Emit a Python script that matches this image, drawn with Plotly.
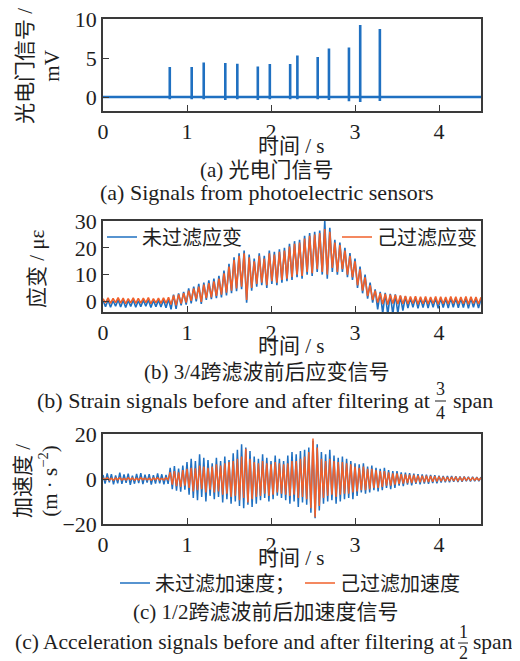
import plotly.graph_objects as go

# the page body has an 8px margin: the figure starts at (8, 8) in the window
WIN_W, WIN_H = 520, 661
OFF = 8
W, H = WIN_W - OFF, WIN_H - OFF

# ---------------- data ----------------
# (a) photoelectric gate signal: spike times (s), peak heights (mV), dips (mV)
spike_t = [0.795, 1.056, 1.199, 1.456, 1.599, 1.843, 1.986, 2.228, 2.314, 2.556, 2.690, 2.928, 3.062, 3.296]
spike_h = [3.85, 3.85, 4.44, 4.36, 4.27, 3.93, 4.23, 4.23, 5.34, 5.13, 6.24, 6.37, 9.27, 8.76]
spike_dip = [-0.3, -0.3, -0.3, -0.4, -0.3, -0.4, -0.3, -0.3, -0.3, -0.3, -0.4, -0.55, -0.65, -0.5]
signal_start = 0.0
signal_end = 4.5

# (b) strain at 3/4 span (με), sampled every strain_dt seconds
strain_dt = 0.03
strain_raw = [
    0.3, -2.0, 0.5, -2.2, 0.2, -1.8, 0.6, -2.1, 0.4, -2.3, 0.3, -1.9, 0.5, -2.2, 0.2, -2.0, 0.4, -1.8, 0.6, -2.3, 0.3, -2.0, 0.4, -2.1, 0.5, -2.4, 0.8,
    -3.0, 2.5, -2.8, 3.0, -1.5, 3.5, -1.2,
    4.8, -0.8, 5.5, 0.0, 6.5, -1.0, 7.0, 0.5, 7.8, 0.8, 8.5, 1.2, 9.5,
    1.5, 11.5, 2.2, 14.0, 3.0, 16.5, 3.8, 18.0, 4.5, 19.0, -0.5, 17.5, 4.0, 16.0,
    5.5, 18.0, 6.0, 17.0, 5.0, 19.0, 6.5, 18.5, 6.0, 19.5, 7.0, 20.0, 7.5,
    21.5, 8.0, 22.5, 9.0, 23.0, 8.5, 24.5, 10.0, 25.5, 9.5, 26.0, 11.0, 26.5, 10.0, 30.0, 8.5, 27.5,
    11.0, 23.0, 10.0, 22.0, 11.0, 20.0, 9.0, 18.0, 8.0, 16.0,
    5.0, 13.0, 3.0, 10.0, 1.0, 7.0, -0.5,
    4.5, -3.0, 3.5, -4.5, 3.2, -5.0, 2.8, -4.8, 2.6, -4.5, 2.0, -3.5, 1.8,
    -2.5, 1.2, -2.2, 1.4, -2.6, 1.1, -2.3, 1.3, -2.5, 1.0, -2.2, 1.2, -2.6, 1.1, -2.3, 1.0, -2.5, 1.2, -2.2, 1.1, -2.4, 1.0, -2.3, 1.2, -2.6, 1.1, -2.2, 1.0, -2.5, 0.9,
]
strain_filt = [
    1.0, -0.6, 1.3, -0.8, 1.1, -0.5, 1.4, -0.7, 1.2, -0.9, 1.0, -0.6, 1.3, -0.8, 1.1, -0.7, 1.2, -0.5, 1.4, -0.9, 1.0, -0.6, 1.2, -0.8, 1.3, -0.7, 1.5,
    -1.2, 2.2, -1.5, 2.6, -0.8, 3.0, -0.5,
    4.0, 0.2, 4.8, 0.8, 5.5, -0.2, 6.2, 1.2, 6.8, 1.5, 7.5, 2.0, 8.5,
    2.5, 10.5, 3.2, 13.0, 4.0, 15.5, 4.8, 17.0, 5.5, 18.0, 0.5, 16.5, 5.0, 15.0,
    6.5, 17.0, 7.0, 16.0, 6.0, 18.0, 7.5, 17.5, 7.0, 18.5, 8.0, 19.0, 8.5,
    20.5, 9.0, 21.5, 10.0, 22.0, 9.5, 23.5, 11.0, 24.5, 10.5, 25.0, 12.0, 25.5, 11.0, 27.0, 10.0, 26.0,
    12.5, 22.0, 11.0, 21.0, 12.0, 19.0, 10.0, 17.0, 9.0, 15.0,
    6.0, 12.0, 4.0, 9.0, 2.0, 6.0, 0.5,
    4.0, -0.5, 3.0, -1.0, 2.8, -1.2, 2.5, -0.8, 2.4, -1.0, 2.2, -0.9, 2.0,
    -1.0, 1.8, -0.8, 1.9, -1.1, 1.7, -0.9, 1.8, -1.0, 1.6, -0.8, 1.8, -1.1, 1.7, -0.9, 1.6, -1.0, 1.8, -0.8, 1.7, -1.0, 1.6, -0.9, 1.8, -1.1, 1.7, -0.8, 1.6, -1.0, 1.5,
]

# (c) acceleration at 1/2 span (m/s^2), sampled every acc_dt seconds
acc_dt = 0.025
acc_raw = [
    1.8, -2.0, 2.5, -1.5, 2.2, -2.4, 1.6, -1.9, 2.8, -2.2, 2.0, -1.7, 2.4, -2.6, 1.5, -2.1, 2.3, -1.8, 2.6, -2.3, 1.9, -1.6, 2.2, -2.5, 1.7, -2.0, 2.5, -1.9, 2.1, -2.4, 1.8, -2.2,
    5.0, -4.5, 5.8, -5.2, 4.6, -5.6, 6.0, -4.8,
    7.5, -7.0, 9.0, -8.5, 8.0, -9.5, 11.0, -8.0, 9.5, -10.0, 8.5, -7.5,
    7.0, -9.0, 9.5, -8.0, 8.0, -10.5, 10.0, -9.0, 8.5, -11.0, 11.5, -10.0,
    13.0, -12.0, 15.5, -13.0, 14.0, -11.5, 12.5, -12.5,
    10.0, -11.0, 9.0, -9.5, 11.0, -8.5, 9.5, -10.0, 8.0, -9.0, 10.5, -7.5, 9.0, -8.5, 8.0, -9.5,
    10.5, -11.0, 12.0, -10.0, 11.0, -12.5, 12.5, -10.5, 13.0, -11.5,
    14.0, -15.0, 17.0, -17.5, 15.5, -14.0, 12.0, -11.0,
    11.0, -10.0, 13.0, -9.5, 10.5, -11.0, 9.5, -10.0, 10.0, -9.0, 9.0, -8.5, 8.0, -9.0,
    7.0, -7.5, 6.5, -6.0, 7.0, -6.5, 5.5, -6.0, 6.0, -5.0, 5.0, -5.5, 4.5, -5.0, 5.0, -4.0, 4.0, -4.5, 3.5, -4.0,
    3.5, -3.0, 3.0, -3.2, 2.8, -2.5, 2.6, -2.8, 2.4, -2.2, 2.2, -2.4, 2.0, -2.0, 1.9, -2.1, 1.8, -1.8, 1.7, -1.9,
    1.5, -1.6, 1.4, -1.5, 1.3, -1.4, 1.3, -1.2, 1.2, -1.3, 1.1, -1.2, 1.1, -1.0, 1.0, -1.1, 1.0, -1.0, 0.9, -1.0, 0.9,
]
acc_filt = [
    0.4, -0.3, 0.5, -0.4, 0.3, -0.5, 0.4, -0.3, 0.5, -0.4, 0.3, -0.4, 0.5, -0.3, 0.4, -0.5, 0.3, -0.4, 0.5, -0.3, 0.4, -0.4, 0.3, -0.5, 0.4, -0.3, 0.5, -0.4, 0.3, -0.4, 0.5, -0.3,
    3.0, -2.5, 3.5, -3.2, 3.0, -3.5, 4.0, -3.0,
    4.5, -4.0, 5.0, -5.5, 4.8, -5.0, 6.0, -4.5, 5.5, -6.0, 5.0, -4.8,
    5.5, -6.0, 6.5, -5.5, 6.0, -7.0, 7.0, -6.5, 7.5, -8.0, 8.0, -7.5,
    9.0, -9.5, 10.0, -8.5, 13.5, -10.5, 9.0, -9.0,
    7.5, -8.0, 7.0, -7.5, 8.0, -6.5, 7.0, -7.5, 6.5, -7.0, 7.5, -6.0, 7.0, -6.5, 6.5, -7.0,
    7.0, -7.5, 8.0, -7.0, 8.0, -8.5, 9.0, -8.0, 10.0, -9.0,
    12.0, -13.0, 18.0, -17.0, 14.0, -12.0, 9.0, -8.5,
    8.0, -7.5, 9.0, -7.0, 8.0, -8.0, 7.5, -7.0, 7.5, -6.5, 7.0, -6.5, 6.5, -6.0,
    5.5, -5.5, 5.0, -5.0, 5.5, -5.0, 4.5, -4.5, 4.5, -4.0, 4.0, -4.0, 3.5, -3.5, 3.5, -3.0, 3.0, -3.0, 2.5, -2.5,
    2.5, -2.2, 2.2, -2.0, 2.0, -1.8, 1.9, -1.8, 1.8, -1.6, 1.6, -1.5, 1.5, -1.4, 1.4, -1.3, 1.3, -1.2, 1.2, -1.1,
    1.1, -1.0, 1.0, -1.0, 0.9, -0.9, 0.9, -0.8, 0.8, -0.8, 0.7, -0.7, 0.7, -0.6, 0.6, -0.6, 0.6, -0.5, 0.5, -0.5, 0.5,
]

x_ticks = [0, 1, 2, 3, 4]
y_ticks_a = [0, 5, 10]
y_ticks_b = [0, 10, 20, 30]
y_ticks_c = [-20, 0, 20]

name_raw_strain = "未过滤应变"
name_filt_strain = "己过滤应变"
name_raw_acc = "未过滤加速度；"
name_filt_acc = "己过滤加速度"

# ---------------- styling ----------------
BLUE = "#1f70c1"
ORANGE = "#f0602b"
FRAME = "#3a3a3a"
TXT = "#1e1e1e"
FONT = "Liberation Serif, Noto Sans CJK SC"


def px(x):
    """window pixel x -> paper fraction"""
    return (x - OFF) / W


def py(y):
    """window pixel y (from top) -> paper fraction"""
    return 1 - (y - OFF) / H


def times(values, dt):
    return [round(i * dt, 4) for i in range(len(values))]


# build the gate signal trace from the spike list
gx = [signal_start]
gy = [0.0]
for t, h, d in zip(spike_t, spike_h, spike_dip):
    gx += [t, t, t, t]
    gy += [0.0, h, d, 0.0]
gx.append(signal_end)
gy.append(0.0)

fig = go.Figure()
fig.add_trace(go.Scatter(x=gx, y=gy, mode="lines", line=dict(color=BLUE, width=2.6),
                         showlegend=False, xaxis="x", yaxis="y"))
fig.add_trace(go.Scatter(x=times(strain_raw, strain_dt), y=strain_raw, mode="lines",
                         line=dict(color=BLUE, width=1.6), name=name_raw_strain,
                         legend="legend", xaxis="x2", yaxis="y2"))
fig.add_trace(go.Scatter(x=times(strain_filt, strain_dt), y=strain_filt, mode="lines",
                         line=dict(color=ORANGE, width=1.6), name=name_filt_strain,
                         legend="legend2", xaxis="x2", yaxis="y2"))
fig.add_trace(go.Scatter(x=times(acc_raw, acc_dt), y=acc_raw, mode="lines",
                         line=dict(color=BLUE, width=1.5), name=name_raw_acc,
                         legend="legend3", xaxis="x3", yaxis="y3"))
fig.add_trace(go.Scatter(x=times(acc_filt, acc_dt), y=acc_filt, mode="lines",
                         line=dict(color=ORANGE, width=1.5), name=name_filt_acc,
                         legend="legend3", xaxis="x3", yaxis="y3"))

xdom = [px(103), px(481)]
axis_common = dict(showline=True, mirror=True, linecolor=FRAME, linewidth=1.5,
                   ticks="inside", ticklen=6, tickwidth=1.3, tickcolor=FRAME,
                   showgrid=False, zeroline=False, ticklabeloverflow="allow",
                   tickfont=dict(family=FONT, size=22, color=TXT))


def xa(anchor):
    return dict(domain=xdom, range=[0, 4.5], tickvals=x_ticks, anchor=anchor, **axis_common)


def ya(anchor, dom, rng, tv):
    return dict(domain=dom, range=rng, tickvals=tv, anchor=anchor, **axis_common)


leg_common = dict(bgcolor="rgba(0,0,0,0)", borderwidth=0,
                  font=dict(family=FONT, size=20, color=TXT), itemwidth=30)

fig.update_layout(
    width=W, height=H, margin=dict(l=0, r=0, t=0, b=0, autoexpand=False),
    paper_bgcolor="white", plot_bgcolor="white",
    xaxis=xa("y"), xaxis2=xa("y2"), xaxis3=xa("y3"),
    yaxis=ya("x", [py(111), py(19)], [-1.8, 10.03], y_ticks_a),
    yaxis2=ya("x2", [py(312), py(221)], [-4, 30.05], y_ticks_b),
    yaxis3=ya("x3", [py(524), py(434)], [-20.05, 20.05], y_ticks_c),
    legend=dict(x=px(102), y=py(237), xanchor="left", yanchor="middle", **leg_common),
    legend2=dict(x=px(482), y=py(237), xanchor="right", yanchor="middle", **leg_common),
    legend3=dict(x=px(290), y=py(583), xanchor="center", yanchor="middle",
                 orientation="h", **leg_common),
    showlegend=True,
)


def ann(text, x, y, size=21, xanchor="center", angle=0):
    fig.add_annotation(text=text, x=px(x), y=py(y), xref="paper", yref="paper",
                       xanchor=xanchor, yanchor="middle", showarrow=False, textangle=angle,
                       font=dict(family=FONT, size=size, color=TXT), align="center")


# axis titles
ann("光电门信号 /<br>mV", 38, 66, angle=-90)
ann("应变 / με", 37, 269, angle=-90)
ann("加速度 /<br>(m · s<sup>−2</sup>)", 37, 481, angle=-90)
for y in (146, 346, 558):
    ann("时间 / s", 291, y)

# captions
ann("(a) 光电门信号", 267, 170)
ann("(a) Signals from photoelectric sensors", 267, 193, size=22)
ann("(b) 3/4跨滤波前后应变信号", 267, 372)
ann("(b) Strain signals before and after filtering at", 432, 400, size=22, xanchor="right")
ann("3", 440, 389, size=18)
ann("4", 440, 413, size=18)
ann("span", 451, 400, size=22, xanchor="left")
fig.add_shape(type="line", xref="paper", yref="paper", x0=px(435), x1=px(446),
              y0=py(401), y1=py(401), line=dict(color=TXT, width=1))
ann("(c) 1/2跨滤波前后加速度信号", 265, 612)
ann("(c) Acceleration signals before and after filtering at", 457, 642, size=21.5, xanchor="right")
ann("1", 463, 632, size=18)
ann("2", 463, 653, size=18)
ann("span", 471, 642, size=21.5, xanchor="left")
fig.add_shape(type="line", xref="paper", yref="paper", x0=px(458), x1=px(468),
              y0=py(643), y1=py(643), line=dict(color=TXT, width=1))

fig.write_html("out.html")
